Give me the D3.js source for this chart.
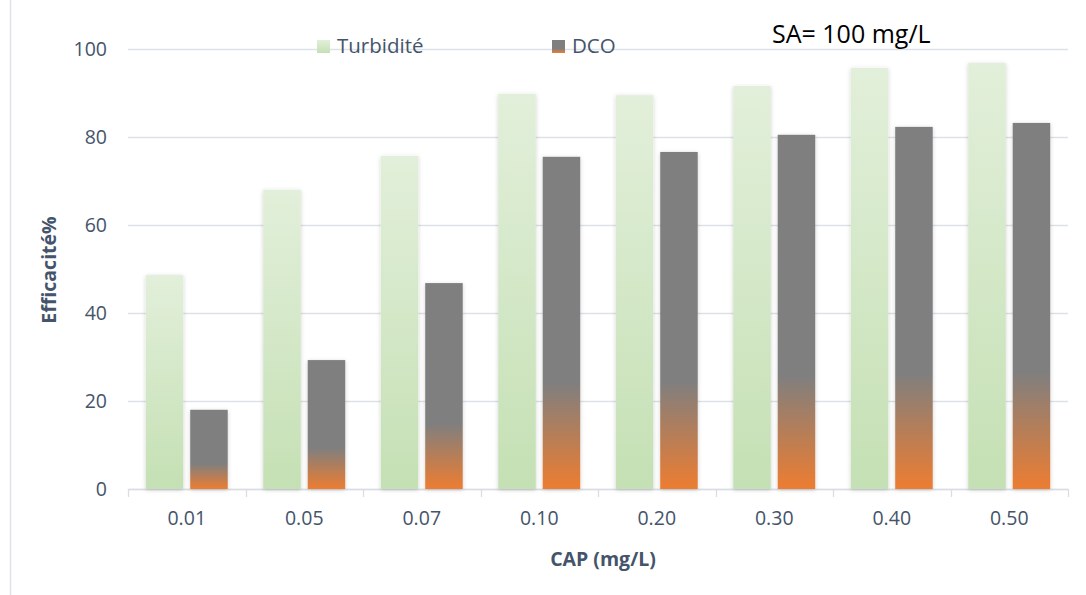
<!DOCTYPE html>
<html><head><meta charset="utf-8">
<script src="https://cdn.jsdelivr.net/npm/d3@7"></script>
<style>body{margin:0;background:#fff;} svg{display:block;font-family:"Open Sans",sans-serif;}</style>
</head><body>
<script>
const categories = ["0.01","0.05","0.07","0.10","0.20","0.30","0.40","0.50"];
const turbidite = [48.6, 68.0, 75.7, 89.8, 89.5, 91.6, 95.7, 96.8];
const dco = [18.0, 29.3, 46.8, 75.5, 76.6, 80.5, 82.3, 83.2];
const yTicks = [0, 20, 40, 60, 80, 100];
const seriesNames = ["Turbidité", "DCO"];

const W = 1086, H = 595;
const m = {left:128, right:18, top:49, bottom:106};
const svg = d3.select("body").append("svg").attr("width", W).attr("height", H);
const defs = svg.append("defs");
const g1 = defs.append("linearGradient").attr("id","gGreen").attr("x1",0).attr("y1",0).attr("x2",0).attr("y2",1);
g1.append("stop").attr("offset","0%").attr("stop-color","#e2efda");
g1.append("stop").attr("offset","100%").attr("stop-color","#c5e0b4");
const g2 = defs.append("linearGradient").attr("id","gDco").attr("x1",0).attr("y1",0).attr("x2",0).attr("y2",1);
g2.append("stop").attr("offset","0%").attr("stop-color","#7f7f7f");
g2.append("stop").attr("offset","68%").attr("stop-color","#7f7f7f");
g2.append("stop").attr("offset","100%").attr("stop-color","#ed7d31");
const f = defs.append("filter").attr("id","sh").attr("x","-20%").attr("y","-5%").attr("width","140%").attr("height","115%");
f.append("feDropShadow").attr("dx",0).attr("dy",1).attr("stdDeviation",2).attr("flood-color","#000").attr("flood-opacity",0.18);

// frame (left edge only visible)
svg.append("line").attr("x1",10.5).attr("x2",10.5).attr("y1",0).attr("y2",H).attr("stroke","#dde2ea").attr("stroke-width",1.5);

const x = d3.scaleBand().domain(categories).range([m.left, W - m.right]).paddingInner(0).paddingOuter(0);
const y = d3.scaleLinear().domain([0,100]).range([H - m.bottom, m.top]);
const inner = d3.scaleBand().domain(seriesNames).range([0, x.bandwidth()]).paddingInner(0.156).paddingOuter(0.40);

// grid
svg.append("g").selectAll("line").data(yTicks).join("line")
  .attr("x1", m.left).attr("x2", W - m.right)
  .attr("y1", d => y(d)+0.5).attr("y2", d => y(d)+0.5)
  .attr("stroke","#dde1e8").attr("stroke-width",1.3);

// y labels
svg.append("g").selectAll("text").data(yTicks).join("text")
  .attr("x", 107).attr("y", d => y(d)).attr("dy","0.36em")
  .attr("text-anchor","end").attr("font-size",19.5).attr("fill","#44546a").text(d => d);

// x axis
const xa = svg.append("g").attr("transform",`translate(0,${y(0)})`)
  .call(d3.axisBottom(x).tickSize(0).tickPadding(22));
xa.select(".domain").attr("stroke","#d9dde5").attr("stroke-width",1.3);
xa.selectAll("text").attr("font-size",19.5).attr("fill","#44546a").attr("font-family","Open Sans");
const bounds = categories.map(c => x(c)).concat([W - m.right]);
svg.append("g").selectAll("line").data(bounds).join("line")
  .attr("x1", d => Math.round(d)+0.5).attr("x2", d => Math.round(d)+0.5)
  .attr("y1", y(0)).attr("y2", y(0)+8).attr("stroke","#d9dde5").attr("stroke-width",1.3);

// bars
const grp = svg.append("g").attr("filter","url(#sh)");
grp.selectAll("rect.t").data(turbidite).join("rect").attr("class","t")
  .attr("x",(d,i)=>x(categories[i])+inner("Turbidité")).attr("width",inner.bandwidth())
  .attr("y",d=>y(d)).attr("height",d=>y(0)-y(d)).attr("fill","url(#gGreen)");
grp.selectAll("rect.d").data(dco).join("rect").attr("class","d")
  .attr("x",(d,i)=>x(categories[i])+inner("DCO")).attr("width",inner.bandwidth())
  .attr("y",d=>y(d)).attr("height",d=>y(0)-y(d)).attr("fill","url(#gDco)");

// axis titles
svg.append("text").attr("transform",`translate(49,${y(50)+1}) rotate(-90)`).attr("text-anchor","middle")
  .attr("dy","0.35em").attr("font-size",19.5).attr("font-weight","bold").attr("fill","#44546a").text("Efficacité%");
svg.append("text").attr("x",603).attr("y",566).attr("text-anchor","middle")
  .attr("font-size",19.5).attr("font-weight","bold").attr("fill","#44546a").text("CAP (mg/L)");

// legend
const lg = svg.append("g");
const legX = [317, 552];
const legFill = ["url(#gGreen)","url(#gDco)"];
seriesNames.forEach((s,i)=>{
  lg.append("rect").attr("x",legX[i]).attr("y",40).attr("width",13).attr("height",13).attr("fill",legFill[i]);
  lg.append("text").attr("x",legX[i]+20).attr("y",53).attr("font-size",20.5).attr("fill","#44546a").text(s);
});

svg.append("text").attr("x",772).attr("y",43).attr("font-size",25).attr("fill","#000").text("SA= 100 mg/L");
</script>
</body></html>
